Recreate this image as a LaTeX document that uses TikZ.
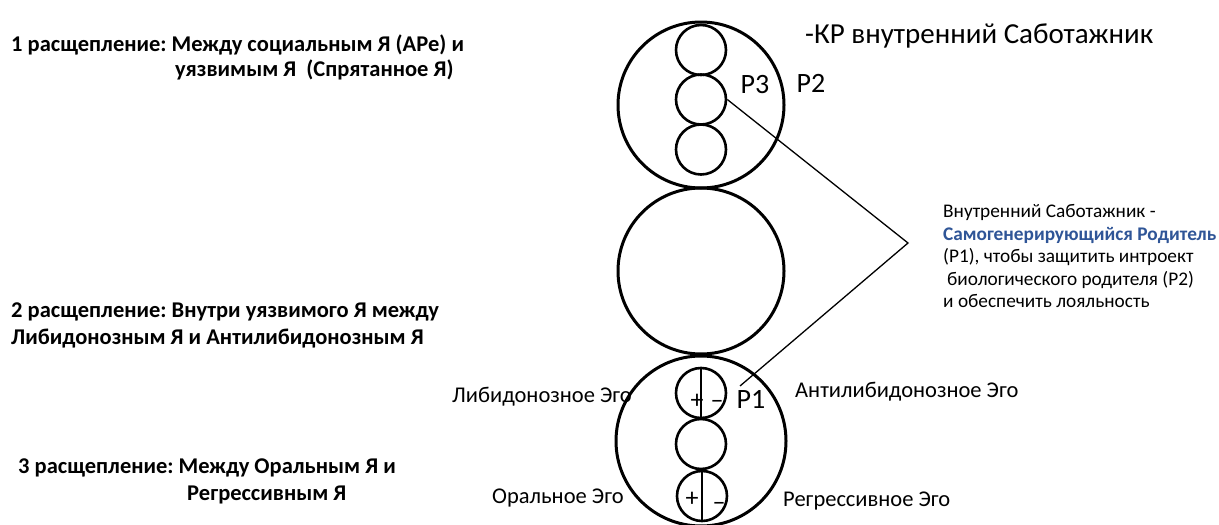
\documentclass[tikz,border=0pt]{standalone}
\usepackage{fontspec}
\setmainfont{Carlito}
\frenchspacing
\begin{document}
\begin{tikzpicture}[x=1pt,y=-1pt,
  big/.style={circle,draw,line width=3pt,minimum size=166pt,inner sep=0pt},
  small/.style={circle,draw,line width=2.6pt,minimum size=50pt,inner sep=0pt},
  split/.style={font=\fontsize{22.5}{26}\selectfont\bfseries,anchor=base west,inner sep=0pt},
  ego/.style={font=\fontsize{22.5}{26}\selectfont,anchor=base west,inner sep=0pt},
  plabel/.style={font=\fontsize{28}{30}\selectfont,anchor=base,inner sep=0pt},
  sign/.style={font=\fontsize{26}{26}\selectfont,inner sep=0pt,anchor=base},
  link/.style={line width=1.3pt}]
\useasboundingbox (0,0) rectangle (1219,525);

% three big circles
\node[big] (top) at (701,105) {};
\node[big] (mid) at (701,271) {};
\node[big,minimum size=170pt] (bot) at (701,441) {};

% inner circles of the upper one
\node[small] (t1) at (701,50) {};
\node[small] (t2) at (701,99.5) {};
\node[small] (t3) at (701,149.5) {};

% inner circles of the lower one
\node[small] (b1) at (701,393) {};
\node[small] (b2) at (701,444) {};
\node[small] (b3) at (702,496) {};
\draw[line width=2pt] (b1.north) -- (b1.south);
\draw[line width=2pt] (b3.north) -- (b3.south);
\node[sign] (pl1) at (697,408.5) {+};
\node[sign] (mi1) at (717,408) {--};
\node[sign] (pl2) at (692,506.5) {+};
\node[sign] (mi2) at (719,510) {--};

% P labels
\node[plabel] (p3) at (755,93) {P3};
\node[plabel] (p2) at (811,92) {P2};
\node[plabel] (p1) at (751,408) {P1};

% title
\node[font=\fontsize{29}{32}\selectfont,anchor=base west,inner sep=0pt] (title) at (805,43) {-КР внутренний Саботажник};

% connectors
\coordinate (v) at (908,243);
\coordinate (pe) at (740,386);
\draw[link] (t2.east) -- (v) -- (pe);

% explanation
\node[font=\fontsize{19.3}{22.5}\selectfont,align=left,anchor=north west,inner sep=0pt] (expl) at (943,204.5)
 {Внутренний Саботажник -\\
  \textcolor[HTML]{2F5597}{\bfseries Самогенерирующийся Родитель}\\
  (P1), чтобы защитить интроект\\
  \hspace{4pt}биологического родителя (P2)\\
  и обеспечить лояльность};

% splitting levels on the left
\node[split] (s1a) at (11,51) {1 расщепление: Между социальным Я (АРе) и};
\node[split] (s1b) at (175,76) {уязвимым Я \ (Спрятанное Я)};
\node[split] (s2a) at (11,317) {2 расщепление: Внутри уязвимого Я между};
\node[split] (s2b) at (11,344) {Либидонозным Я и Антилибидонозным Я};
\node[split] (s3a) at (18,473) {3 расщепление: Между Оральным Я и};
\node[split] (s3b) at (187,500) {Регрессивным Я};

% ego labels
\node[ego] (lib) at (452,402) {Либидонозное Эго};
\node[ego] (anti) at (795,397) {Антилибидонозное Эго};
\node[ego] (oral) at (492,503) {Оральное Эго};
\node[ego] (regr) at (783,506) {Регрессивное Эго};
\end{tikzpicture}
\end{document}
